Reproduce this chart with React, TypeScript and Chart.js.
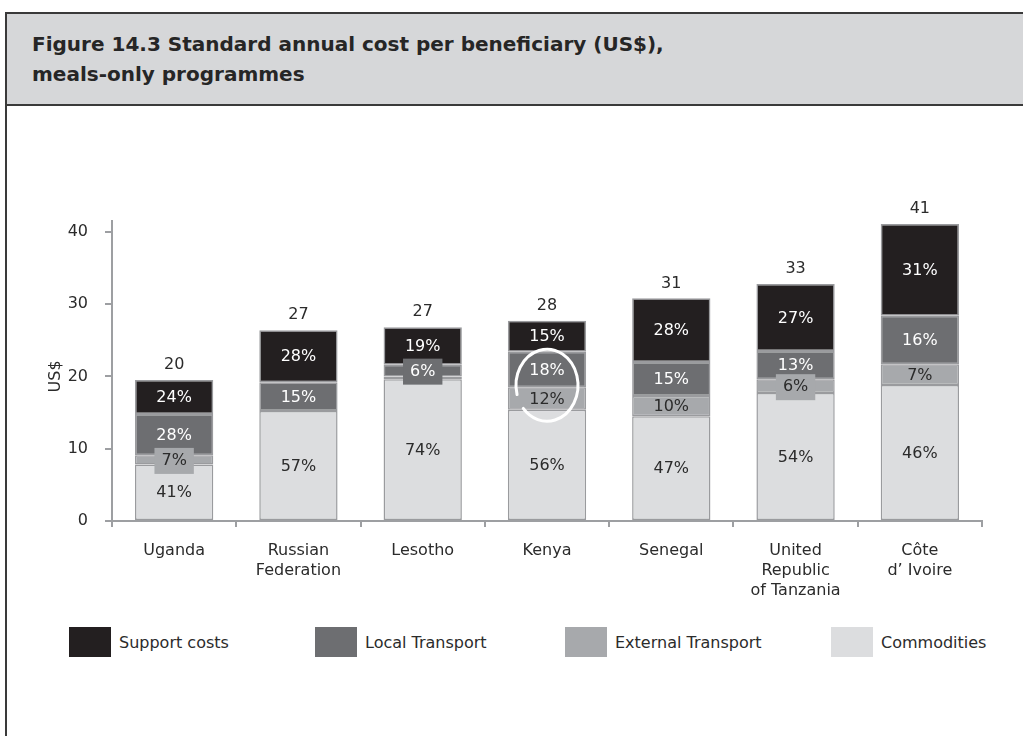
import React, { useEffect, useRef } from "react";
import { Chart, registerables } from "chart.js";

Chart.register(...registerables);

// ---------- data ----------
const categories: string[][] = [
  ["Uganda"],
  ["Russian", "Federation"],
  ["Lesotho"],
  ["Kenya"],
  ["Senegal"],
  ["United", "Republic", "of Tanzania"],
  ["Côte", "d’ Ivoire"],
];

// segment values (US$)
const commodities = [7.8, 15.2, 19.6, 15.4, 14.5, 17.7, 18.8];
const externalTransport = [1.3, 0, 0.4, 3.1, 2.8, 1.9, 2.9];
const localTransport = [5.7, 4.0, 1.6, 4.9, 4.7, 3.9, 6.7];
const supportCosts = [4.7, 7.2, 5.2, 4.3, 8.8, 9.3, 12.7];

// printed percentages
const commoditiesPct = [41, 57, 74, 56, 47, 54, 46];
const externalPct: (number | null)[] = [7, null, null, 12, 10, 6, 7];
const localPct = [28, 15, 6, 18, 15, 13, 16];
const supportPct = [24, 28, 19, 15, 28, 27, 31];

// printed totals
const totals = ["20", "27", "27", "28", "31", "33", "41"];

const yTicks = [0, 10, 20, 30, 40];
const yTitle = "US$";
const title = ["Figure 14.3 Standard annual cost per beneficiary (US$),", "meals-only programmes"];

// ---------- styles ----------
const FONT = '"DejaVu Sans", Verdana, sans-serif';
const COL_SUPPORT = "#231f20";
const COL_LOCAL = "#6d6e71";
const COL_EXTERNAL = "#a7a9ac";
const COL_COMMOD = "#dcdddf";
const AXIS = "#9d9fa2";
const TEXT = "#2b2b2b";

const series = [
  { label: "Commodities", data: commodities, pct: commoditiesPct, color: COL_COMMOD, text: TEXT },
  { label: "External Transport", data: externalTransport, pct: externalPct, color: COL_EXTERNAL, text: TEXT },
  { label: "Local Transport", data: localTransport, pct: localPct, color: COL_LOCAL, text: "#ffffff" },
  { label: "Support costs", data: supportCosts, pct: supportPct, color: COL_SUPPORT, text: "#ffffff" },
];

const legendLefts = [69, 315, 565, 831];

const labelPlugin = {
  id: "segLabels",
  afterDatasetsDraw(chart: any) {
    const ctx = chart.ctx as CanvasRenderingContext2D;
    const yScale = chart.scales.y;
    ctx.save();
    ctx.font = `16px ${FONT}`;
    ctx.textAlign = "center";
    ctx.textBaseline = "middle";
    series.forEach((s, di) => {
      const meta = chart.getDatasetMeta(di);
      meta.data.forEach((bar: any, i: number) => {
        const pct = s.pct[i];
        if (pct == null) return;
        const { x, y, base } = bar.getProps(["x", "y", "base"], true);
        const h = Math.abs(base - y);
        const cy = (y + base) / 2 + 1;
        const text = pct + "%";
        if (h < 18) {
          const w = ctx.measureText(text).width + 14;
          ctx.fillStyle = s.color;
          ctx.fillRect(x - w / 2, cy - 13, w, 26);
        }
        ctx.fillStyle = s.text;
        ctx.fillText(text, x, cy);
      });
    });
    // totals
    const topMeta = chart.getDatasetMeta(series.length - 1);
    ctx.fillStyle = TEXT;
    topMeta.data.forEach((bar: any, i: number) => {
      const { x, y } = bar.getProps(["x", "y"], true);
      ctx.fillText(totals[i], x, y - 15);
    });
    // y title
    ctx.save();
    ctx.translate(56, yScale.getPixelForValue(20));
    ctx.rotate(-Math.PI / 2);
    ctx.fillText(yTitle, 0, 0);
    ctx.restore();
    // hand-drawn annotation around Kenya
    const kBar: any = chart.getDatasetMeta(0).data[3];
    const kx = kBar.getProps(["x"], true).x;
    const ky = yScale.getPixelForValue(commodities[3] + externalTransport[3]) - 2;
    ctx.strokeStyle = "#ffffff";
    ctx.lineWidth = 3;
    ctx.lineCap = "round";
    ctx.beginPath();
    ctx.ellipse(kx, ky, 31, 36, 0, (165 * Math.PI) / 180, (500 * Math.PI) / 180);
    ctx.stroke();
    ctx.restore();
  },
};

function BarChart() {
  const ref = useRef<HTMLCanvasElement>(null);
  useEffect(() => {
    if (!ref.current) return;
    const chart = new Chart(ref.current, {
      type: "bar",
      data: {
        labels: categories,
        datasets: series.map((s) => ({
          label: s.label,
          data: s.data,
          backgroundColor: s.color,
          borderColor: "#9a9b9e",
          borderWidth: 1.5,
          borderSkipped: false,
          categoryPercentage: 1,
          barPercentage: 0.63,
        })),
      },
      options: {
        animation: false,
        responsive: false,
        maintainAspectRatio: false,
        layout: { padding: { top: 115, right: 41, left: 0, bottom: 0 } },
        plugins: {
          legend: { display: false },
          tooltip: { enabled: false },
          title: { display: false },
        },
        scales: {
          x: {
            stacked: true,
            grid: {
              offset: true,
              drawOnChartArea: false,
              drawTicks: true,
              tickLength: 6,
              color: AXIS,
              lineWidth: 2,
            },
            border: { display: true, color: AXIS, width: 2 },
            ticks: {
              padding: 14,
              color: TEXT,
              font: { family: FONT, size: 16, lineHeight: 1.25 },
              maxRotation: 0,
              autoSkip: false,
            },
            afterFit: (scale: any) => {
              scale.height = 85;
            },
          },
          y: {
            stacked: true,
            min: 0,
            max: 41.5,
            grid: {
              drawOnChartArea: false,
              drawTicks: true,
              tickLength: 7,
              color: AXIS,
              lineWidth: 2,
            },
            border: { display: true, color: AXIS, width: 2 },
            ticks: {
              stepSize: 10,
              padding: 17,
              color: TEXT,
              font: { family: FONT, size: 16 },
            },
            afterBuildTicks: (scale: any) => {
              scale.ticks = yTicks.map((v) => ({ value: v }));
            },
            afterFit: (scale: any) => {
              scale.width = 112;
            },
          },
        },
      },
      plugins: [labelPlugin],
    });
    return () => chart.destroy();
  }, []);
  return (
    <canvas
      ref={ref}
      width={1023}
      height={500}
      style={{ position: "absolute", left: 0, top: 106, width: 1023, height: 500 }}
    />
  );
}

export default function App() {
  const legendItems = [...series].reverse();
  return (
    <div
      style={{
        position: "absolute",
        left: 0,
        top: 0,
        width: 1023,
        height: 736,
        background: "#ffffff",
        overflow: "hidden",
        fontFamily: FONT,
      }}
    >
      <div
        style={{
          position: "absolute",
          left: 5,
          top: 12,
          width: 1040,
          height: 90,
          background: "#d6d7d9",
          borderTop: "2px solid #3a3a3a",
          borderLeft: "2px solid #3a3a3a",
          borderBottom: "2px solid #3a3a3a",
        }}
      />
      <div
        style={{
          position: "absolute",
          left: 32,
          top: 29,
          fontSize: 20,
          lineHeight: "30px",
          fontWeight: "bold",
          color: "#262626",
          whiteSpace: "nowrap",
        }}
      >
        {title.map((t, i) => (
          <div key={i}>{t}</div>
        ))}
      </div>
      <div style={{ position: "absolute", left: 5, top: 104, width: 2, height: 640, background: "#3a3a3a" }} />
      <BarChart />
      {legendItems.map((s, i) => (
        <div
          key={s.label}
          style={{ position: "absolute", left: legendLefts[i], top: 627, height: 30, display: "flex", alignItems: "center" }}
        >
          <div style={{ width: 42, height: 30, background: s.color }} />
          <div style={{ marginLeft: 8, fontSize: 16, color: TEXT, whiteSpace: "nowrap" }}>{s.label}</div>
        </div>
      ))}
    </div>
  );
}
